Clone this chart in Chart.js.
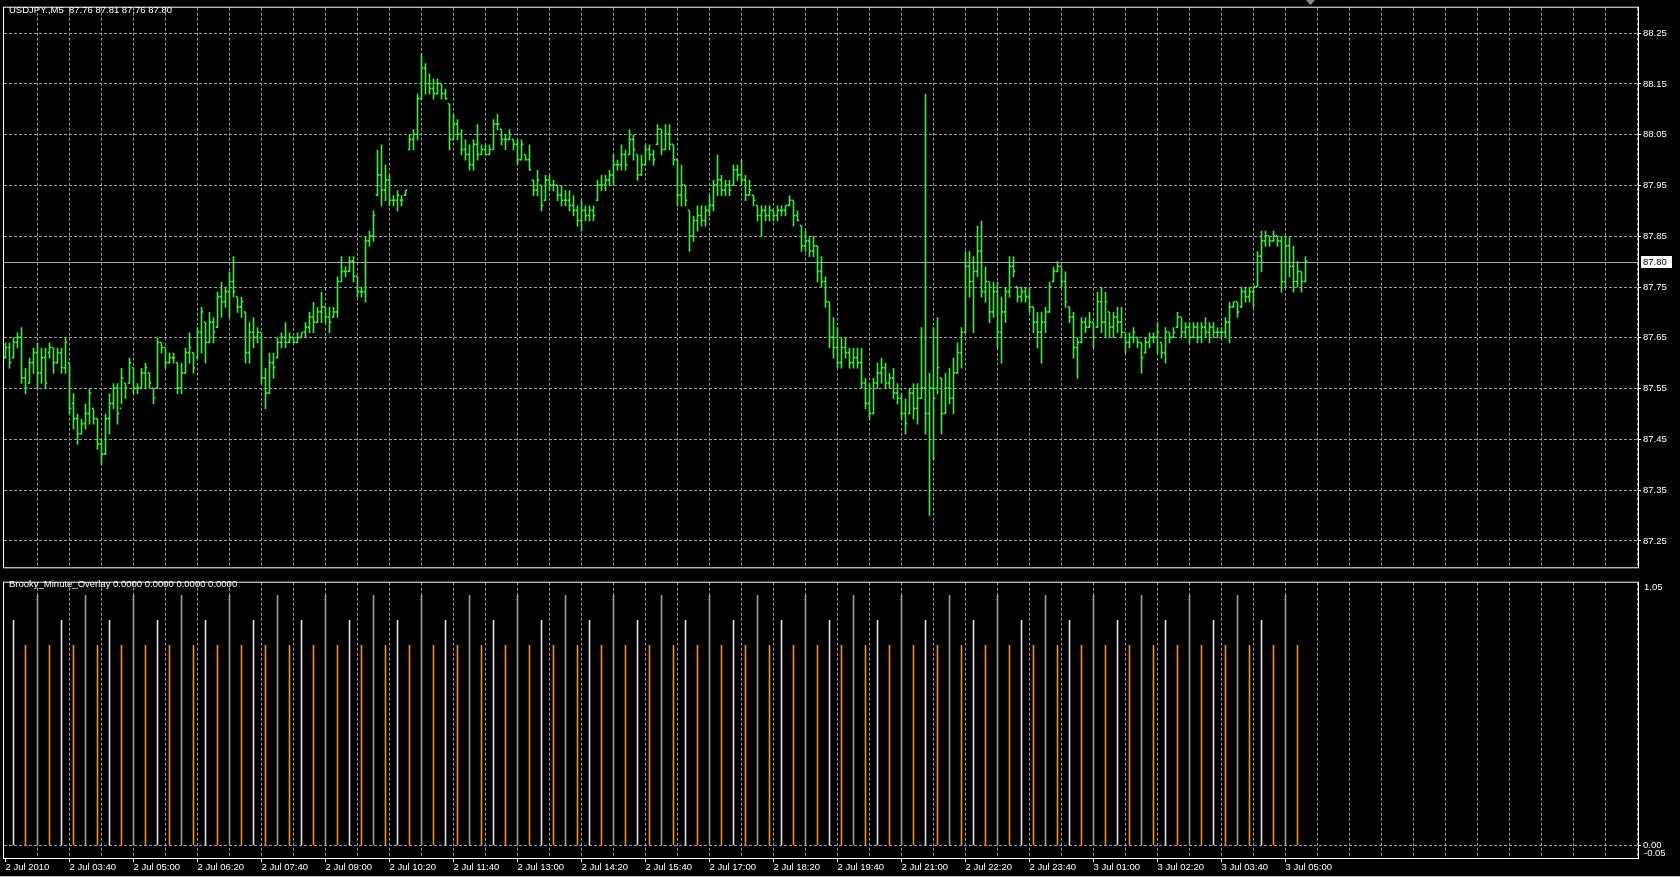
<!DOCTYPE html>
<html>
<head>
<meta charset="utf-8">
<script src="https://cdn.jsdelivr.net/npm/chart.js@4.4.1/dist/chart.umd.min.js"></script>
<style>
  html, body { margin: 0; padding: 0; background: #000; }
  body { width: 1680px; height: 877px; position: relative; overflow: hidden; font-family: "Liberation Sans", Arial, sans-serif; }
  canvas { display: block; position: absolute; left: 0; }
  #mainChart { top: 0; }
  #subChart { top: 575px; }
  .caption { position: absolute; color: #fff; font-size: 9.5px; line-height: 11px; white-space: pre; z-index: 2; }
  #winEdge { position: absolute; left: 0; top: 876px; width: 1680px; height: 1px; background: #b8b8b8; }
</style>
</head>
<body>
<canvas id="mainChart" width="1680" height="575"></canvas>
<canvas id="subChart" width="1680" height="302"></canvas>
<div class="caption" id="mainCaption" style="left:9px;top:4px"></div>
<div class="caption" id="subCaption" style="left:9px;top:578px"></div>
<div id="winEdge"></div>
<script>
'use strict';

/* ── USDJPY M5 bars, 2 Jul 02:20 → 3 Jul 05:25 ── */
const opens = [
  87.61,87.63,87.61,87.64,87.65,87.57,87.56,87.60,87.62,87.58,
  87.61,87.62,87.63,87.60,87.62,87.59,87.60,87.52,87.49,87.46,
  87.48,87.50,87.51,87.49,87.44,87.42,87.49,87.52,87.55,87.51,
  87.56,87.56,87.59,87.55,87.55,87.58,87.58,87.55,87.55,87.64,
  87.63,87.60,87.61,87.60,87.55,87.58,87.62,87.62,87.61,87.66,
  87.68,87.64,87.68,87.67,87.73,87.72,87.74,87.76,87.73,87.71,
  87.70,87.62,87.66,87.65,87.66,87.57,87.54,87.60,87.61,87.64,
  87.65,87.64,87.65,87.64,87.65,87.66,87.67,87.69,87.68,87.70,
  87.71,87.69,87.69,87.70,87.76,87.78,87.78,87.80,87.77,87.74,
  87.74,87.84,87.85,87.93,87.97,87.94,87.96,87.92,87.92,87.92,
  87.93,88.02,88.04,88.05,88.12,88.18,88.15,88.14,88.13,88.15,
  88.13,88.11,88.04,88.07,88.05,88.02,88.01,87.99,88.03,88.01,
  88.02,88.01,88.02,88.07,88.06,88.04,88.04,88.04,88.03,88.00,
  88.01,88.00,87.96,87.94,87.95,87.92,87.96,87.95,87.95,87.93,
  87.92,87.92,87.91,87.90,87.88,87.90,87.89,87.90,87.92,87.95,
  87.95,87.96,87.97,87.99,87.99,88.01,88.01,88.04,88.01,87.97,
  87.99,88.02,88.01,88.03,88.06,88.02,88.05,88.03,88.00,87.93,
  87.95,87.90,87.85,87.88,87.89,87.88,87.90,87.91,87.95,87.96,
  87.94,87.95,87.95,87.98,87.97,87.96,87.93,87.93,87.91,87.89,
  87.90,87.89,87.90,87.89,87.90,87.90,87.91,87.92,87.89,87.87,
  87.83,87.84,87.82,87.83,87.78,87.76,87.72,87.65,87.63,87.60,
  87.63,87.62,87.60,87.61,87.60,87.56,87.52,87.50,87.56,87.58,
  87.59,87.56,87.57,87.54,87.53,87.50,87.50,87.54,87.51,87.53,
  87.55,87.50,87.55,87.55,87.57,87.50,87.55,87.53,87.58,87.62,
  87.66,87.79,87.76,87.78,87.82,87.74,87.76,87.70,87.74,87.66,
  87.70,87.74,87.79,87.75,87.73,87.74,87.73,87.71,87.68,87.66,
  87.68,87.70,87.76,87.78,87.79,87.76,87.71,87.69,87.63,87.64,
  87.68,87.67,87.68,87.67,87.72,87.68,87.70,87.67,87.69,87.68,
  87.66,87.64,87.65,87.65,87.64,87.62,87.64,87.65,87.65,87.64,
  87.62,87.66,87.65,87.67,87.69,87.66,87.67,87.65,87.67,87.65,
  87.67,87.66,87.67,87.66,87.66,87.66,87.68,87.71,87.72,87.71,
  87.74,87.73,87.74,87.75,87.81,87.84,87.85,87.84,87.85,87.84,
  87.76,87.83,87.79,87.76,87.78,87.76
];
const highs = [
  87.64,87.64,87.65,87.66,87.67,87.59,87.61,87.63,87.64,87.63,
  87.63,87.64,87.63,87.63,87.63,87.65,87.60,87.54,87.50,87.49,
  87.52,87.55,87.51,87.49,87.45,87.50,87.54,87.56,87.56,87.59,
  87.56,87.61,87.59,87.56,87.59,87.60,87.58,87.55,87.65,87.64,
  87.63,87.62,87.62,87.60,87.60,87.63,87.66,87.62,87.67,87.71,
  87.68,87.70,87.69,87.74,87.76,87.75,87.78,87.81,87.73,87.73,
  87.70,87.68,87.69,87.67,87.66,87.59,87.62,87.62,87.65,87.66,
  87.68,87.66,87.65,87.66,87.66,87.68,87.70,87.72,87.71,87.74,
  87.71,87.71,87.71,87.77,87.81,87.79,87.81,87.81,87.77,87.75,
  87.85,87.86,87.90,88.02,88.03,87.99,87.97,87.93,87.94,87.93,
  87.94,88.05,88.06,88.13,88.21,88.19,88.17,88.16,88.16,88.15,
  88.14,88.11,88.09,88.08,88.06,88.04,88.03,88.04,88.07,88.03,
  88.03,88.03,88.08,88.09,88.06,88.05,88.06,88.04,88.04,88.04,
  88.01,88.03,87.96,87.98,87.95,87.97,87.97,87.96,87.95,87.95,
  87.94,87.94,87.93,87.91,87.92,87.91,87.91,87.91,87.96,87.97,
  87.97,87.98,88.01,88.00,88.03,88.02,88.06,88.05,88.01,88.01,
  88.03,88.03,88.02,88.07,88.06,88.07,88.07,88.03,88.00,87.99,
  87.95,87.90,87.89,87.91,87.91,87.91,87.93,87.96,88.01,87.97,
  87.96,87.96,87.99,87.99,88.00,87.97,87.96,87.93,87.91,87.91,
  87.91,87.91,87.90,87.91,87.91,87.91,87.93,87.92,87.90,87.87,
  87.86,87.85,87.85,87.83,87.81,87.77,87.72,87.69,87.67,87.65,
  87.65,87.63,87.63,87.63,87.63,87.57,87.56,87.57,87.60,87.61,
  87.60,87.58,87.59,87.56,87.54,87.53,87.55,87.56,87.56,87.67,
  88.13,87.58,87.67,87.69,87.57,87.58,87.59,87.61,87.64,87.67,
  87.82,87.82,87.81,87.87,87.88,87.79,87.76,87.76,87.76,87.73,
  87.75,87.81,87.81,87.75,87.75,87.75,87.75,87.71,87.70,87.70,
  87.71,87.76,87.79,87.80,87.79,87.78,87.71,87.70,87.65,87.69,
  87.69,87.70,87.68,87.74,87.75,87.74,87.70,87.70,87.71,87.71,
  87.66,87.66,87.67,87.65,87.64,87.65,87.66,87.66,87.68,87.64,
  87.67,87.66,87.67,87.70,87.69,87.68,87.68,87.68,87.68,87.68,
  87.69,87.68,87.68,87.67,87.67,87.69,87.72,87.72,87.72,87.75,
  87.75,87.75,87.75,87.82,87.86,87.86,87.85,87.86,87.85,87.85,
  87.85,87.85,87.83,87.80,87.78,87.81
];
const lows = [
  87.61,87.59,87.61,87.63,87.56,87.54,87.56,87.58,87.55,87.56,
  87.55,87.61,87.58,87.60,87.58,87.58,87.50,87.47,87.44,87.46,
  87.47,87.48,87.48,87.43,87.40,87.42,87.46,87.51,87.48,87.52,
  87.53,87.56,87.54,87.54,87.55,87.55,87.55,87.52,87.55,87.62,
  87.59,87.60,87.60,87.54,87.54,87.58,87.60,87.58,87.61,87.62,
  87.60,87.64,87.64,87.67,87.69,87.71,87.69,87.73,87.70,87.69,
  87.60,87.60,87.63,87.64,87.56,87.51,87.54,87.57,87.61,87.63,
  87.63,87.64,87.64,87.64,87.65,87.65,87.66,87.66,87.68,87.68,
  87.68,87.66,87.69,87.69,87.76,87.77,87.78,87.76,87.73,87.73,
  87.72,87.83,87.84,87.93,87.91,87.92,87.91,87.91,87.90,87.91,
  87.93,88.02,88.02,88.04,88.12,88.13,88.13,88.12,88.13,88.12,
  88.12,88.02,88.04,88.04,88.01,88.00,87.98,87.98,88.00,88.01,
  88.01,88.01,88.02,88.06,88.03,88.02,88.04,88.02,87.99,88.00,
  88.00,87.98,87.93,87.93,87.90,87.92,87.94,87.94,87.92,87.91,
  87.91,87.90,87.89,87.87,87.86,87.88,87.88,87.88,87.92,87.94,
  87.94,87.95,87.95,87.98,87.98,87.98,88.01,88.00,87.96,87.97,
  87.99,88.00,87.99,88.03,88.01,88.02,88.02,87.99,87.91,87.91,
  87.91,87.82,87.84,87.86,87.87,87.87,87.89,87.90,87.93,87.93,
  87.93,87.93,87.95,87.96,87.95,87.92,87.93,87.91,87.88,87.85,
  87.88,87.88,87.88,87.88,87.89,87.89,87.91,87.87,87.88,87.82,
  87.82,87.81,87.81,87.76,87.75,87.71,87.63,87.61,87.59,87.59,
  87.61,87.59,87.59,87.59,87.55,87.51,87.49,87.50,87.55,87.56,
  87.55,87.55,87.53,87.52,87.49,87.46,87.50,87.49,87.48,87.53,
  87.46,87.30,87.41,87.54,87.46,87.50,87.52,87.50,87.58,87.59,
  87.66,87.73,87.66,87.77,87.73,87.72,87.68,87.69,87.63,87.60,
  87.68,87.73,87.77,87.72,87.72,87.72,87.70,87.66,87.63,87.60,
  87.66,87.70,87.76,87.78,87.75,87.71,87.68,87.61,87.57,87.64,
  87.66,87.67,87.63,87.67,87.66,87.65,87.65,87.65,87.66,87.65,
  87.62,87.63,87.64,87.63,87.58,87.62,87.63,87.64,87.62,87.61,
  87.60,87.64,87.65,87.67,87.65,87.65,87.64,87.65,87.64,87.64,
  87.65,87.64,87.65,87.65,87.65,87.65,87.64,87.71,87.69,87.71,
  87.72,87.72,87.71,87.75,87.78,87.83,87.83,87.84,87.83,87.74,
  87.75,87.77,87.74,87.75,87.74,87.76
];
const closes = [
  87.63,87.60,87.64,87.65,87.57,87.55,87.60,87.62,87.58,87.61,
  87.56,87.63,87.60,87.62,87.59,87.64,87.51,87.49,87.46,87.48,
  87.50,87.54,87.49,87.44,87.42,87.49,87.52,87.55,87.50,87.57,
  87.55,87.60,87.55,87.55,87.58,87.59,87.56,87.53,87.64,87.63,
  87.60,87.61,87.61,87.55,87.58,87.62,87.63,87.59,87.66,87.70,
  87.64,87.68,87.66,87.73,87.72,87.74,87.76,87.74,87.71,87.72,
  87.62,87.66,87.65,87.66,87.57,87.54,87.60,87.59,87.64,87.65,
  87.64,87.65,87.64,87.65,87.66,87.67,87.69,87.68,87.70,87.71,
  87.69,87.68,87.70,87.76,87.78,87.78,87.80,87.77,87.74,87.74,
  87.84,87.85,87.89,87.97,87.94,87.96,87.92,87.92,87.93,87.92,
  87.94,88.04,88.05,88.12,88.18,88.15,88.14,88.13,88.15,88.13,
  88.12,88.04,88.07,88.05,88.02,88.01,87.99,88.03,88.01,88.02,
  88.01,88.02,88.07,88.07,88.04,88.04,88.05,88.03,88.00,88.03,
  88.00,87.98,87.94,87.96,87.91,87.96,87.95,87.95,87.93,87.92,
  87.92,87.91,87.90,87.88,87.90,87.89,87.90,87.89,87.95,87.95,
  87.96,87.97,87.99,87.99,88.01,87.99,88.04,88.02,87.97,87.99,
  88.02,88.01,88.00,88.06,88.02,88.05,88.03,88.00,87.93,87.95,
  87.92,87.85,87.88,87.89,87.88,87.90,87.91,87.95,87.96,87.94,
  87.95,87.94,87.98,87.97,87.96,87.93,87.94,87.92,87.89,87.90,
  87.89,87.90,87.89,87.90,87.90,87.91,87.92,87.89,87.88,87.83,
  87.84,87.82,87.83,87.78,87.76,87.72,87.65,87.63,87.60,87.63,
  87.62,87.60,87.61,87.60,87.56,87.52,87.50,87.56,87.58,87.59,
  87.56,87.57,87.54,87.53,87.50,87.48,87.54,87.51,87.53,87.55,
  87.50,87.55,87.53,87.59,87.50,87.55,87.53,87.58,87.62,87.66,
  87.79,87.76,87.78,87.82,87.74,87.76,87.70,87.74,87.66,87.70,
  87.74,87.79,87.78,87.73,87.74,87.73,87.71,87.68,87.66,87.68,
  87.70,87.75,87.78,87.79,87.76,87.72,87.69,87.63,87.64,87.68,
  87.67,87.68,87.65,87.72,87.68,87.72,87.67,87.69,87.68,87.66,
  87.64,87.65,87.66,87.64,87.61,87.64,87.65,87.65,87.66,87.62,
  87.66,87.65,87.66,87.69,87.66,87.67,87.65,87.67,87.65,87.67,
  87.66,87.67,87.66,87.66,87.66,87.68,87.71,87.72,87.70,87.74,
  87.73,87.74,87.75,87.81,87.84,87.85,87.84,87.85,87.84,87.76,
  87.83,87.79,87.76,87.78,87.76,87.80
];

// time axis: a label every 16 bars (80 min)
const labelBars = [0,16,32,48,64,80,96,112,128,144,160,176,192,208,224,240,256,272,288,304,320];
const tickLabels = ['2 Jul 2010','2 Jul 03:40','2 Jul 05:00','2 Jul 06:20','2 Jul 07:40','2 Jul 09:00',
  '2 Jul 10:20','2 Jul 11:40','2 Jul 13:00','2 Jul 14:20','2 Jul 15:40','2 Jul 17:00','2 Jul 18:20',
  '2 Jul 19:40','2 Jul 21:00','2 Jul 22:20','2 Jul 23:40','3 Jul 01:00','3 Jul 02:20','3 Jul 03:40','3 Jul 05:00'];
const priceTicks = [87.25,87.35,87.45,87.55,87.65,87.75,87.85,87.95,88.05,88.15,88.25];

/* ── Brooky_Minute_Overlay marks (bar index) ── */
const hourBars = [8,20,32,44,56,68,80,92,104,116,128,140,152,164,176,188,200,212,224,236,248,260,272,284,296,308,320];
const halfHourBars = [2,14,26,38,50,62,74,86,98,110,122,134,146,158,170,182,194,206,218,230,242,254,266,278,290,302,314];
const quarterBars = [5,11,17,23,29,35,41,47,53,59,65,71,77,83,89,95,101,107,113,119,125,131,137,143,149,155,161,
  167,173,179,185,191,197,203,209,215,221,227,233,239,245,251,257,263,269,275,281,287,293,299,305,311,317,323];
const overlayLevels = [1.0, 0.9, 0.8];
const overlayRange = [-0.05, 1.05];

const FONT = { family: "'Liberation Sans', Arial, sans-serif", size: 9.5 };
const C = {
  bar:     '#3fe43f',
  grid:    '#9c9c9c',
  text:    '#ffffff',
  frame:   '#ffffff',
  bidLine: '#a8a8a8',
  hour:    '#9a9a9a',
  half:    '#dcdcdc',
  quarter: '#f08a24',
};

const X_MIN = -0.375, X_MAX = 408.125;
const gridBars = [];
for (let i = 8; i <= 408; i += 8) gridBars.push(i);

const last = closes.length - 1;
document.getElementById('mainCaption').textContent =
  'USDJPY.,M5  ' + [opens[last], highs[last], lows[last], closes[last]].map(v => v.toFixed(2)).join(' ');
document.getElementById('subCaption').textContent = 'Brooky_Minute_Overlay 0.0000 0.0000 0.0000 0.0000';

function spans(a, b) { return a.map((v, i) => ({ x: i, y: [v, b[i]] })); }
function marks(bars, level) { return bars.map(i => ({ x: i, y: [0, level] })); }

const framePlugin = {
  id: 'frame',
  afterDraw(chart) {
    const { ctx, chartArea: a } = chart;
    ctx.save();
    ctx.strokeStyle = C.frame;
    ctx.lineWidth = 1;
    ctx.strokeRect(a.left - 0.5, a.top - 0.5, a.right - a.left + 1, a.bottom - a.top + 1);
    ctx.restore();
  }
};

// bid line + price box + shift marker
const bidPlugin = {
  id: 'bid',
  afterDatasetsDraw(chart) {
    const { ctx, chartArea: a, scales } = chart;
    const y = Math.round(scales.y.getPixelForValue(closes[last])) + 0.5;
    ctx.save();
    ctx.strokeStyle = C.bidLine;
    ctx.lineWidth = 1;
    ctx.beginPath(); ctx.moveTo(a.left, y); ctx.lineTo(a.right, y); ctx.stroke();
    ctx.fillStyle = '#fff';
    ctx.fillRect(a.right + 3, y - 6.5, 31, 12);
    ctx.fillStyle = '#000';
    ctx.font = FONT.size + 'px ' + FONT.family;
    ctx.textBaseline = 'middle';
    ctx.fillText(closes[last].toFixed(2), a.right + 5, y);
    const sx = Math.round(scales.x.getPixelForValue(closes.length));
    ctx.fillStyle = '#8c8c8c';
    ctx.beginPath(); ctx.moveTo(sx - 4, 0); ctx.lineTo(sx + 5, 0); ctx.lineTo(sx + 0.5, 5); ctx.closePath(); ctx.fill();
    ctx.restore();
  }
};

const edgeLabelsPlugin = {
  id: 'edgeLabels',
  afterDraw(chart) {
    const { ctx, chartArea: a, scales } = chart;
    ctx.save();
    ctx.fillStyle = C.text;
    ctx.font = FONT.size + 'px ' + FONT.family;
    ctx.textBaseline = 'middle';
    ctx.fillText(scales.y.max.toFixed(2), a.right + 6, a.top + 5);
    ctx.fillText(scales.y.min.toFixed(2), a.right + 6, a.bottom - 5);
    ctx.restore();
  }
};

function xScale(showLabels) {
  return {
    type: 'linear', min: X_MIN, max: X_MAX, offset: false, bounds: 'data',
    afterBuildTicks: s => { s.ticks = (showLabels ? [0].concat(gridBars) : gridBars).map(v => ({ value: v })); },
    afterFit: s => { s.height = showLabels ? 19 : 0; s.paddingLeft = 0; s.paddingRight = 0; },
    ticks: {
      display: showLabels, color: C.text, font: FONT, autoSkip: false, maxRotation: 0, minRotation: 0,
      align: 'start', padding: 0,
      callback: v => { const k = labelBars.indexOf(v); return k >= 0 ? tickLabels[k] : ''; }
    },
    grid: {
      offset: false, color: ctx => ctx.tick && ctx.tick.value === 0 ? 'rgba(0,0,0,0)' : C.grid,
      drawTicks: showLabels, tickLength: 4, tickBorderDash: [],
      tickColor: ctx => ctx.tick && labelBars.indexOf(ctx.tick.value) >= 0 ? C.frame : 'rgba(0,0,0,0)'
    },
    border: { display: false, dash: [3, 2] }
  };
}

new Chart(document.getElementById('mainChart'), {
  type: 'bar',
  data: {
    datasets: [
      { label: 'Open', stack: 'o', data: spans(opens, opens), backgroundColor: C.bar },
      { label: 'Range', stack: 'hl', data: spans(lows, highs), backgroundColor: C.bar },
      { label: 'Close', stack: 'c', data: spans(closes, closes), backgroundColor: C.bar }
    ]
  },
  options: {
    responsive: false, animation: false, events: [],
    layout: { padding: { left: 4, top: 2, right: 0, bottom: 2 } },
    plugins: { legend: { display: false }, tooltip: { enabled: false }, colors: { enabled: false } },
    datasets: { bar: { barThickness: 1, minBarLength: 1, grouped: true, borderWidth: 0 } },
    scales: {
      x: xScale(false),
      y: {
        position: 'right', min: 87.198, max: 88.3002, beginAtZero: false,
        afterBuildTicks: s => { s.ticks = priceTicks.map(v => ({ value: v })); },
        afterFit: s => { s.width = 42; },
        ticks: { color: C.text, font: FONT, padding: 2, callback: v => Number(v).toFixed(2) },
        grid: { color: C.grid, tickColor: C.frame, tickLength: 3, tickBorderDash: [] },
        border: { display: false, dash: [3, 2] }
      }
    }
  },
  plugins: [framePlugin, bidPlugin]
});

new Chart(document.getElementById('subChart'), {
  type: 'bar',
  data: {
    datasets: [
      { label: 'hour', data: marks(hourBars, overlayLevels[0]), backgroundColor: C.hour },
      { label: 'half', data: marks(halfHourBars, overlayLevels[1]), backgroundColor: C.half },
      { label: 'quarter', data: marks(quarterBars, overlayLevels[2]), backgroundColor: C.quarter }
    ]
  },
  options: {
    responsive: false, animation: false, events: [],
    layout: { padding: { left: 4, top: 3, right: 0, bottom: 0 } },
    plugins: { legend: { display: false }, tooltip: { enabled: false }, colors: { enabled: false } },
    datasets: { bar: { barThickness: 1, grouped: false, borderWidth: 0 } },
    scales: {
      x: xScale(true),
      y: {
        position: 'right', min: overlayRange[0], max: overlayRange[1], beginAtZero: false,
        afterBuildTicks: s => { s.ticks = [{ value: 0 }]; },
        afterFit: s => { s.width = 42; },
        ticks: { color: C.text, font: FONT, padding: 2, callback: v => Number(v).toFixed(2) },
        grid: { color: C.grid, tickColor: C.frame, tickLength: 3, tickBorderDash: [] },
        border: { display: false, dash: [3, 2] }
      }
    }
  },
  plugins: [framePlugin, edgeLabelsPlugin]
});
</script>
</body>
</html>
